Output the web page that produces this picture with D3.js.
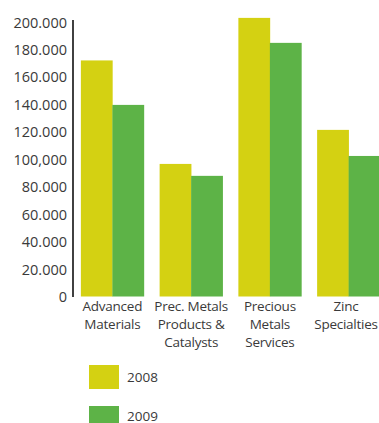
<!DOCTYPE html>
<html><head><meta charset="utf-8">
<script src="https://cdn.jsdelivr.net/npm/d3@7"></script>
<style>body{margin:0;background:#fff;overflow:hidden}svg{display:block}text{font-family:"Open Sans",sans-serif;fill:#3a3a3a}</style>
</head><body>
<script>
const categories = [["Advanced","Materials"],["Prec. Metals","Products &","Catalysts"],["Precious","Metals","Services"],["Zinc","Specialties"]];
const seriesNames = ["2008","2009"];
const values2008 = [172000, 96600, 203000, 121400];
const values2009 = [139600, 87900, 184800, 102400];
const tickValues = [0,20000,40000,60000,80000,100000,120000,140000,160000,180000,200000];
const tickLabels = ["0","20.000","40.000","60.000","80.000","100,000","120.000","140.000","160.000","180.000","200.000"];
const colors = ["#d4d112","#5db347"];

const W=379,H=423;
const svg=d3.select("body").append("svg").attr("width",W).attr("height",H);
const y=d3.scaleLinear().domain([0,200000]).range([296.5,22]);
const x0=d3.scaleBand().domain(d3.range(categories.length)).range([73,388]).paddingInner(0.2).paddingOuter(0.1);
const x1=d3.scaleBand().domain(seriesNames).range([0,x0.bandwidth()]);
const data=categories.map((c,i)=>({i,vals:[values2008[i],values2009[i]]}));

const g=svg.append("g").selectAll("g").data(data).join("g").attr("transform",d=>`translate(${x0(d.i)},0)`);
g.selectAll("rect").data(d=>d.vals.map((v,k)=>({k,v}))).join("rect")
 .attr("x",d=>x1(seriesNames[d.k])).attr("width",x1.bandwidth()+0.3)
 .attr("y",d=>y(d.v)).attr("height",d=>y(0)-y(d.v)).attr("fill",d=>colors[d.k]);

const ax=svg.append("g").attr("transform","translate(73,0)")
 .call(d3.axisLeft(y).tickValues(tickValues).tickFormat((d,i)=>tickLabels[i]).tickSize(0).tickPadding(6));
ax.select(".domain").attr("stroke","#111").attr("stroke-width",1.6).attr("d","M0,20V297");
ax.selectAll("text").attr("font-size",14.5).attr("fill","#3a3a3a").style("font-family","'Open Sans',sans-serif").attr("dy","0.35em");

const lab=svg.append("g").selectAll("text").data(categories).join("text")
 .attr("text-anchor","middle").attr("font-size",13.5).attr("letter-spacing",-0.25)
 .attr("x",(d,i)=>Math.min(x0(i)+x0.bandwidth()/2,346)).attr("y",311);
lab.selectAll("tspan").data(d=>d).join("tspan")
 .attr("x",function(){return this.parentNode.getAttribute("x");})
 .attr("dy",(d,i)=>i?17.8:0).text(d=>d);

const leg=svg.append("g").selectAll("g").data(seriesNames).join("g")
 .attr("transform",(d,i)=>`translate(89,${365+i*41})`);
leg.append("rect").attr("width",30).attr("height",24).attr("fill",(d,i)=>colors[i]);
leg.append("text").attr("x",38).attr("y",(d,i)=>i?10:12.5).attr("dy","0.35em").attr("font-size",13.5).text(d=>d);
</script>
</body></html>
